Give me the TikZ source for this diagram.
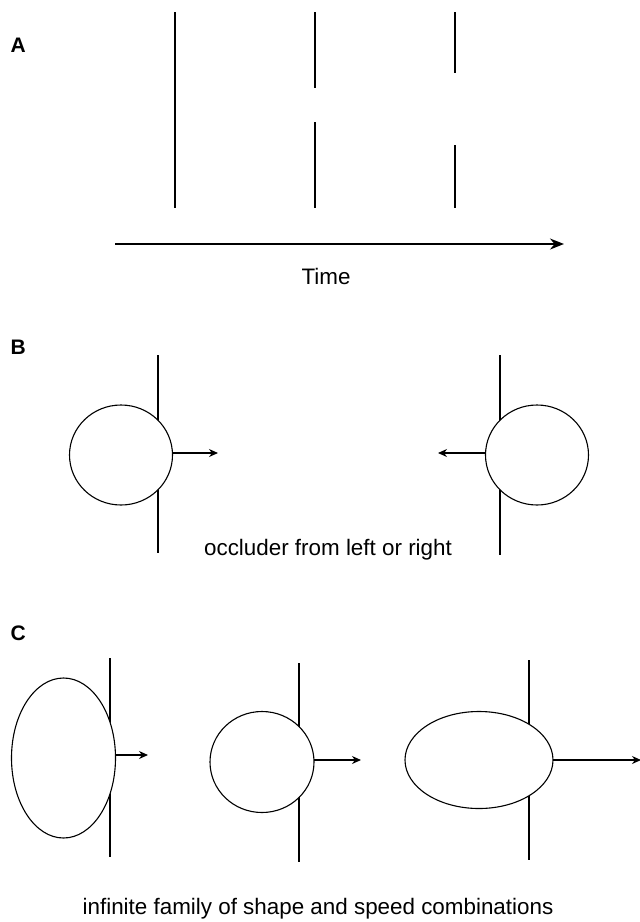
\documentclass[tikz,border=0pt]{standalone}
\usepackage{fontspec}
\setmainfont{Liberation Sans}
\usetikzlibrary{shapes.geometric,arrows.meta}
\begin{document}
\begin{tikzpicture}[x=1pt,y=-1pt,
  occl/.style={line width=2.8pt},
  obj/.style={ellipse,draw,fill=white,line width=1.1pt,inner sep=0pt,outer sep=0pt},
  motion/.style={line width=1.2pt,-{Stealth[length=9pt,width=8pt]}},
  panel/.style={font=\fontsize{21}{24}\selectfont\bfseries,anchor=west},
  caption/.style={font=\fontsize{22.4}{26}\selectfont}]
\useasboundingbox (0,0) rectangle (640,922);
% Panel A
\node[panel] (la) at (7,45) {A};
\draw[occl] (175,12) -- (175,208);
\draw[occl] (315,12) -- (315,88);
\draw[occl] (315,122) -- (315,208);
\draw[occl] (455,12) -- (455,73);
\draw[occl] (455,145) -- (455,208);
\coordinate (t0) at (115,244);
\coordinate (t1) at (564,244);
\draw[line width=1.6pt,-{Stealth[length=14pt,width=11pt]}] (t0) -- (t1);
\node[caption] (time) at (326,276) {Time};
% Panel B
\node[panel] (lb) at (7,347) {B};
\draw[occl] (158,355) -- (158,553);
\node[obj,minimum width=103pt,minimum height=100pt] (b1) at (121,455) {};
\coordinate (b1t) at (218,453);
\draw[motion] (b1.east |- b1t) -- (b1t);
\draw[occl] (500,355) -- (500,555);
\node[obj,minimum width=103pt,minimum height=100pt] (b2) at (537,455) {};
\coordinate (b2t) at (438,453);
\draw[motion] (b2.west |- b2t) -- (b2t);
\node[caption] (capb) at (328,550) {occluder from left or right};
% Panel C
\node[panel] (lc) at (7,633) {C};
\draw[occl] (110,658) -- (110,857);
\node[obj,minimum width=104pt,minimum height=160pt] (c1) at (63.5,758) {};
\coordinate (c1t) at (148,755);
\draw[motion] (c1.east |- c1t) -- (c1t);
\draw[occl] (299,663) -- (299,862);
\node[obj,minimum width=104pt,minimum height=101pt] (c2) at (262,762) {};
\coordinate (c2t) at (361,760);
\draw[motion] (c2.east |- c2t) -- (c2t);
\draw[occl] (529,660) -- (529,860);
\node[obj,minimum width=148pt,minimum height=97pt] (c3) at (479,760) {};
\coordinate (c3t) at (641,760);
\draw[motion] (c3.east) -- (c3t);
\node[caption] (capc) at (318,909) {infinite family of shape and speed combinations};
\end{tikzpicture}
\end{document}
